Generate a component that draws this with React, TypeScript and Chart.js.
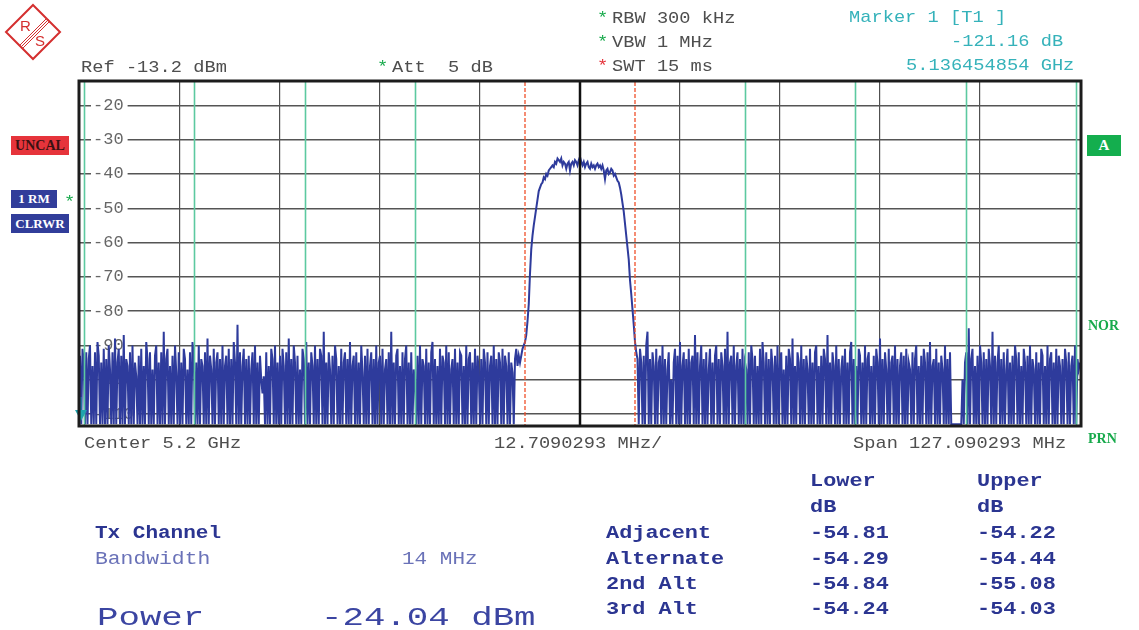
import React, { useEffect, useRef } from "react";
import { Chart, registerables } from "chart.js";

Chart.register(...registerables);

const MONO = "'Liberation Mono', 'DejaVu Sans Mono', monospace";
const SERIF = "'Liberation Serif', 'DejaVu Serif', serif";

// ---- instrument settings ----
const centerGHz = 5.2;
const spanMHz = 127.090293;
const refLevel = -13.2;
const yMinDb = -113.2;
const yTicks = [-110, -100, -90, -80, -70, -60, -50, -40, -30, -20];
const xDivisions = 10;

const leftNoise = [
  -93, -113, -91, -95, -113, -92, -113, -94, -90, -113, -96, -113, -92, -113, -89, -93, -113, -95, -113, -91,
  -113, -94, -113, -90, -97, -113, -92, -113, -88, -113, -95, -91, -113, -93, -113, -87, -113, -94, -96, -113,
  -92, -113, -90, -113, -95, -99, -113, -93, -113, -91, -113, -96, -113, -89, -94, -113, -92, -113, -97, -113,
  -93, -90, -113, -95, -113, -92, -113, -86, -113, -94, -91, -113, -96, -113, -93, -113, -90, -98, -113, -92,
  -113, -95, -113, -91, -94, -113, -97, -113, -92, -113, -89, -93, -113, -95, -113, -90, -113, -94, -96, -113,
  -92, -113, -88, -113, -93, -97, -113, -91, -113, -95, -92, -113, -94, -113, -90, -113, -96, -93, -113, -91,
  -113, -94, -113, -89, -95, -113, -84, -113, -92, -113, -96, -91, -113, -94, -113, -93, -113, -97, -92, -113,
  -90, -113, -95, -113, -93, -100, -104, -99, -113, -92, -113, -96, -113, -91, -94, -113, -90, -113, -95, -113,
  -93, -113, -91, -96, -113, -92, -113, -88, -113, -94, -113, -90, -95, -113, -93, -113, -97, -113, -91, -94,
  -113, -89, -113, -95, -113, -92, -96, -113, -90, -113, -94, -113, -91, -93, -113, -86, -113, -95, -113, -92,
  -97, -113, -93, -113, -90, -94, -113, -96, -113, -91, -113, -95, -92, -113, -94, -113, -89, -113, -96, -93,
  -113, -92, -113, -95, -113, -90, -98, -113, -93, -113, -91, -113, -96, -92, -113, -94, -113, -90, -113, -95,
  -93, -113, -91, -113, -97, -94, -113, -92, -113, -86, -113, -95, -113, -93, -91, -113, -96, -113, -92, -113,
  -94, -90, -113, -95, -113, -92, -113, -97, -101, -113, -93, -113, -90, -113, -94, -96, -113, -91, -113, -95,
  -113, -92, -89, -113, -94, -113, -96, -113, -91, -113, -93, -95, -113, -90, -113, -92, -113, -97, -94, -113,
  -91, -113, -95, -113, -92, -93, -113, -96, -113, -90, -113, -94, -92, -113, -95, -113, -91, -113, -93, -97,
  -113, -94, -113, -91, -95, -113, -92, -113, -96, -93, -113, -90, -113, -94, -113, -92, -95, -113, -91, -113,
  -93, -96, -113, -92, -113, -95, -98, -113, -94, -91, -96, -93, -95,
];
const channelTrace = [
  -93, -91, -90, -89, -87, -83, -78, -69, -62, -58, -55, -52.5,
  -50, -47.5, -45, -44, -43, -42.5, -41, -41.5, -40, -40.5, -39, -38.5,
  -38, -37.5, -38, -36.5, -37, -35.5, -36, -36.5, -35.5, -37.5, -36.5, -37,
  -38.5, -37, -36.5, -39, -37, -36.5, -37.5, -36, -36.5, -37.5, -36, -35,
  -36.5, -37.5, -36.5, -38, -37, -36.5, -38, -38.5, -37, -38, -37.5, -38.5,
  -37.5, -37, -38, -37.5, -38.5, -37.5, -39, -41.5, -39, -38.5, -40, -39.5,
  -38.5, -39, -40.5, -40, -41, -42, -42.5, -44, -46, -48.5, -51, -54.5,
  -58, -61.5, -65, -71, -75, -79.5, -84, -89,
];
const rightNoise = [
  -92, -94, -113, -91, -95, -113, -93, -113, -90, -86, -113, -94, -113, -92, -96, -113, -91, -113, -95, -93,
  -113, -90, -113, -94, -113, -97, -92, -113, -100, -113, -95, -91, -113, -93, -113, -89, -113, -96, -92, -113,
  -94, -113, -91, -113, -95, -93, -113, -87, -113, -92, -113, -96, -90, -113, -94, -113, -92, -113, -97, -91,
  -113, -95, -113, -93, -90, -113, -94, -113, -92, -96, -113, -91, -113, -86, -113, -95, -93, -113, -90, -113,
  -96, -92, -113, -94, -113, -91, -113, -95, -97, -113, -92, -113, -90, -94, -113, -93, -113, -96, -113, -91,
  -113, -89, -95, -113, -92, -113, -94, -113, -91, -96, -113, -93, -113, -90, -113, -95, -92, -113, -97, -113,
  -93, -113, -91, -94, -113, -88, -113, -96, -113, -92, -95, -113, -90, -113, -94, -113, -93, -97, -113, -91,
  -113, -95, -113, -92, -90, -113, -96, -113, -93, -113, -91, -94, -113, -87, -113, -95, -113, -92, -96, -113,
  -90, -113, -94, -113, -97, -93, -113, -91, -113, -95, -113, -92, -89, -113, -94, -113, -96, -113, -91, -93,
  -113, -95, -113, -90, -113, -94, -92, -113, -96, -113, -93, -113, -91, -95, -113, -88, -113, -94, -113, -92,
  -97, -113, -91, -113, -95, -93, -113, -90, -113, -94, -113, -96, -92, -113, -93, -113, -91, -113, -95, -97,
  -113, -92, -113, -94, -90, -113, -96, -113, -93, -113, -91, -95, -113, -92, -113, -89, -113, -96, -94, -113,
  -91, -113, -95, -113, -93, -97, -113, -90, -113, -94, -113, -92, -113, -113, -113, -113, -113, -113, -113, -113,
  -113, -100, -113, -95, -92, -113, -85, -113, -94, -91, -113, -96, -113, -93, -113, -90, -95, -113, -92, -113,
  -94, -113, -91, -96, -113, -86, -113, -93, -113, -95, -90, -113, -94, -113, -92, -113, -97, -91, -113, -95,
  -113, -93, -113, -90, -94, -113, -92, -113, -96, -113, -91, -95, -113, -93, -113, -90, -113, -94, -97, -113,
  -92, -113, -95, -113, -91, -93, -113, -96, -113, -90, -113, -94, -92, -113, -95, -113, -91, -113, -93, -96,
  -113, -94, -113, -91, -95, -113, -92, -113, -96, -93, -113, -90, -113, -94, -97, -95,
];

// ---- channel definitions (MHz offset from center) ----
const channelEdges = [-63, -49, -35, -21, 21, 35, 49, 63];
const txEdges = [-7, 7];

// ---- marker ----
const markerFreqGHz = 5.136454854;
const markerLevel = -121.16;

// ---- ACLR table ----
const aclrNames = ["Adjacent", "Alternate", "2nd Alt", "3rd Alt"];
const aclrLower = [-54.81, -54.29, -54.84, -54.24];
const aclrUpper = [-54.22, -54.44, -55.08, -54.03];
const txBandwidth = "14 MHz";
const txPower = -24.04;

const GRAY = "#4e4e4e";
const TEAL = "#35b2ba";
const GREEN = "#18aa4c";
const RED = "#e5323a";
const DARKBLUE = "#2b3591";
const LIGHTBLUE = "#6a72b8";

const traceDb = [...leftNoise, ...channelTrace, ...rightNoise];
const sweepStep = spanMHz / (traceDb.length - 1);
const tracePoints = traceDb.map((y, i) => ({ x: -spanMHz / 2 + i * sweepStep, y }));
const xGrid = Array.from({ length: xDivisions - 1 }, (_, k) => (k - (xDivisions / 2 - 1)) * (spanMHz / xDivisions));

const overlayPlugin = {
  id: "rsOverlay",
  afterDatasetsDraw(chart: any) {
    const { ctx, chartArea: a, scales } = chart;
    const x = scales.x;
    const y = scales.y;
    ctx.save();
    // channel boundaries
    ctx.strokeStyle = "#5cc9a0";
    ctx.lineWidth = 1.6;
    channelEdges.forEach((f) => {
      const px = Math.round(x.getPixelForValue(f)) + 0.5;
      ctx.beginPath();
      ctx.moveTo(px, a.top);
      ctx.lineTo(px, a.bottom);
      ctx.stroke();
    });
    // tx channel edges
    ctx.strokeStyle = "#f0502a";
    ctx.lineWidth = 1.3;
    ctx.setLineDash([4, 2]);
    txEdges.forEach((f) => {
      const px = Math.round(x.getPixelForValue(f));
      ctx.beginPath();
      ctx.moveTo(px, a.top);
      ctx.lineTo(px, a.bottom);
      ctx.stroke();
    });
    ctx.setLineDash([]);
    // center line
    const cx = x.getPixelForValue(0);
    ctx.strokeStyle = "#111";
    ctx.lineWidth = 2.5;
    ctx.beginPath();
    ctx.moveTo(cx, a.top);
    ctx.lineTo(cx, a.bottom);
    ctx.stroke();
    // marker
    const mx = x.getPixelForValue((markerFreqGHz - centerGHz) * 1000);
    const my = y.getPixelForValue(Math.max(markerLevel, yMinDb));
    ctx.strokeStyle = "#1fa3ad";
    ctx.lineWidth = 1;
    ctx.beginPath();
    ctx.moveTo(mx + 1, my - 28);
    ctx.lineTo(mx + 1, my - 14);
    ctx.stroke();
    ctx.fillStyle = "#1fa3ad";
    ctx.beginPath();
    ctx.moveTo(mx - 5, my - 15);
    ctx.lineTo(mx + 7, my - 15);
    ctx.lineTo(mx + 1, my - 4);
    ctx.closePath();
    ctx.fill();
    // frame
    ctx.strokeStyle = "#1c1c1c";
    ctx.lineWidth = 3;
    ctx.strokeRect(a.left - 1, a.top - 1, a.right - a.left + 2, a.bottom - a.top + 2);
    ctx.restore();
  },
};

type TP = {
  x: number;
  y: number;
  s: string;
  size?: number;
  sx?: number;
  color?: string;
  bold?: boolean;
  family?: string;
};

function T({ x, y, s, size = 17, sx = 1.1, color = GRAY, bold = false, family = MONO }: TP) {
  return (
    <div
      style={{
        position: "absolute",
        left: x,
        top: y - 0.44 * size,
        fontFamily: family,
        fontSize: size,
        lineHeight: `${size}px`,
        fontWeight: bold ? 700 : 400,
        color,
        whiteSpace: "pre",
        transform: `scaleX(${sx})`,
        transformOrigin: "left center",
      }}
    >
      {s}
    </div>
  );
}

function Box({ x, y, w, h, bg, fg, s, size = 13 }: any) {
  return (
    <div
      style={{
        position: "absolute",
        left: x,
        top: y,
        width: w,
        height: h,
        background: bg,
        color: fg,
        fontFamily: SERIF,
        fontWeight: 700,
        fontSize: size,
        lineHeight: `${h}px`,
        textAlign: "center",
        whiteSpace: "pre",
      }}
    >
      {s}
    </div>
  );
}

function Logo() {
  return (
    <svg width={66} height={66} style={{ position: "absolute", left: 0, top: 0 }}>
      <polygon points="33,5 60,32 33,59 6,32" fill="#fff" stroke="#d42f2f" strokeWidth={2} />
      <line x1={47} y1={18} x2={20} y2={45} stroke="#d42f2f" strokeWidth={1} />
      <line x1={48.5} y1={19.5} x2={21.5} y2={46.5} stroke="#d42f2f" strokeWidth={1} />
      <line x1={50} y1={21} x2={23} y2={48} stroke="#d42f2f" strokeWidth={1} />
      <text x={20} y={31} fontFamily="'Liberation Sans', sans-serif" fontSize={15} fill="#d42f2f">R</text>
      <text x={35} y={46} fontFamily="'Liberation Sans', sans-serif" fontSize={15} fill="#d42f2f">S</text>
    </svg>
  );
}

export default function App() {
  const ref = useRef<HTMLCanvasElement>(null);

  useEffect(() => {
    const chart = new Chart(ref.current as HTMLCanvasElement, {
      type: "line",
      data: {
        datasets: [
          {
            data: tracePoints,
            borderColor: "#2e3b9c",
            borderWidth: 2,
            pointRadius: 0,
            tension: 0,
            fill: false,
          },
        ],
      },
      options: {
        animation: false,
        responsive: false,
        maintainAspectRatio: false,
        events: [],
        layout: { padding: { left: 80, top: 82, right: 59, bottom: 205 } },
        plugins: { legend: { display: false }, tooltip: { enabled: false } },
        scales: {
          x: {
            type: "linear",
            min: -spanMHz / 2,
            max: spanMHz / 2,
            afterFit: (s: any) => {
              s.height = 0;
            },
            afterBuildTicks: (s: any) => {
              s.ticks = xGrid.map((v) => ({ value: v }));
            },
            ticks: { display: false, autoSkip: false },
            grid: {
              drawTicks: false,
              color: "#505050",
              lineWidth: 1.2,
            },
            border: { display: false },
          },
          y: {
            type: "linear",
            min: yMinDb,
            max: refLevel,
            afterFit: (s: any) => {
              s.width = 0;
            },
            afterBuildTicks: (s: any) => {
              s.ticks = yTicks.map((v) => ({ value: v }));
            },
            ticks: {
              autoSkip: false,
              mirror: true,
              padding: 13,
              color: "#666",
              font: { family: MONO, size: 17 },
              callback: (v: any) => `${v}`,
              showLabelBackdrop: true,
              backdropColor: "#ffffff",
              backdropPadding: { top: 0, bottom: 0, left: 2, right: 4 },
            } as any,
            grid: { drawTicks: false, color: "#555", lineWidth: 1.4 },
            border: { display: false },
          },
        },
      } as any,
      plugins: [overlayPlugin],
    });
    return () => chart.destroy();
  }, []);

  const rowY = (i: number) => 533 + i * 25.3;

  return (
    <div
      style={{
        position: "absolute",
        left: 0,
        top: 0,
        width: 1139,
        height: 630,
        background: "#fff",
        overflow: "hidden",
      }}
    >
      <canvas
        ref={ref}
        width={1139}
        height={630}
        style={{ position: "absolute", left: 0, top: 0, width: 1139, height: 630 }}
      />
      <Logo />

      {/* header */}
      <T x={81} y={66} s={`Ref ${refLevel.toFixed(1)} dBm`} />
      <T x={377} y={66} s="*" color={GREEN} />
      <T x={392} y={66} s="Att  5 dB" />
      <T x={597} y={17} s="*" color={GREEN} />
      <T x={612} y={17} s="RBW 300 kHz" />
      <T x={597} y={41} s="*" color={GREEN} />
      <T x={612} y={41} s="VBW 1 MHz" />
      <T x={597} y={65} s="*" color={RED} />
      <T x={612} y={65} s="SWT 15 ms" />
      <T x={849} y={16} s="Marker 1 [T1 ]" color={TEAL} />
      <T x={951} y={40} s={`${markerLevel.toFixed(2)} dB`} color={TEAL} />
      <T x={906} y={64} s={`${markerFreqGHz.toFixed(9)} GHz`} color={TEAL} />

      {/* left status boxes */}
      <Box x={11} y={136} w={58} h={19} bg="#e6343b" fg="#3a1212" s="UNCAL" size={14} />
      <Box x={11} y={190} w={46} h={18} bg="#313d9a" fg="#fff" s="1 RM" size={13} />
      <T x={64} y={201} s="*" color={GREEN} />
      <Box x={11} y={214} w={58} h={19} bg="#313d9a" fg="#fff" s="CLRWR" size={13} />

      {/* right status */}
      <Box x={1087} y={135} w={34} h={21} bg="#14ae4e" fg="#fff" s="A" size={15} />
      <div style={{ position: "absolute", left: 1088, top: 318, color: GREEN, fontFamily: SERIF, fontWeight: 700, fontSize: 14, lineHeight: "16px" }}>NOR</div>
      <div style={{ position: "absolute", left: 1088, top: 431, color: GREEN, fontFamily: SERIF, fontWeight: 700, fontSize: 14, lineHeight: "16px" }}>PRN</div>

      {/* x axis annotations */}
      <T x={84} y={442} s={`Center ${centerGHz} GHz`} />
      <T x={494} y={442} s={`${(spanMHz / xDivisions).toFixed(7)} MHz/`} />
      <T x={853} y={442} s={`Span ${spanMHz.toFixed(6)} MHz`} />

      {/* ACLR table */}
      <T x={810} y={481} s="Lower" bold size={17.5} sx={1.25} color={DARKBLUE} />
      <T x={977} y={481} s="Upper" bold size={17.5} sx={1.25} color={DARKBLUE} />
      <T x={810} y={507} s="dB" bold size={17.5} sx={1.25} color={DARKBLUE} />
      <T x={977} y={507} s="dB" bold size={17.5} sx={1.25} color={DARKBLUE} />
      <T x={95} y={533} s="Tx Channel" bold size={17.5} sx={1.2} color={DARKBLUE} />
      <T x={95} y={559} s="Bandwidth" size={17.5} sx={1.22} color={LIGHTBLUE} />
      <T x={402} y={559} s={txBandwidth} size={17.5} sx={1.2} color={LIGHTBLUE} />
      {aclrNames.map((n, i) => (
        <React.Fragment key={n}>
          <T x={606} y={rowY(i)} s={n} bold size={17.5} sx={1.25} color={DARKBLUE} />
          <T x={810} y={rowY(i)} s={aclrLower[i].toFixed(2)} bold size={17.5} sx={1.25} color={DARKBLUE} />
          <T x={977} y={rowY(i)} s={aclrUpper[i].toFixed(2)} bold size={17.5} sx={1.25} color={DARKBLUE} />
        </React.Fragment>
      ))}
      <T x={97} y={617} s="Power" size={25} sx={1.43} color="#3b45a2" />
      <T x={321} y={617} s={`${txPower.toFixed(2)} dBm`} size={25} sx={1.43} color="#3b45a2" />
    </div>
  );
}
